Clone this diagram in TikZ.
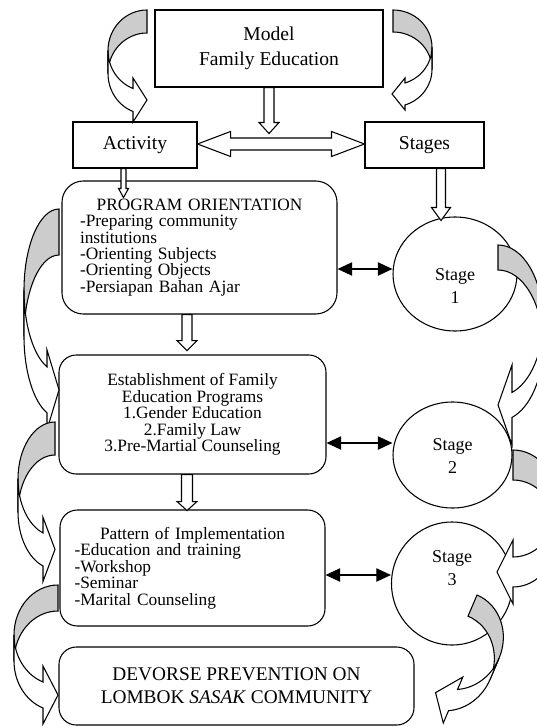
\documentclass[tikz,border=0pt]{standalone}
\usepackage{fontspec}
\setmainfont{Liberation Serif}
\usetikzlibrary{arrows.meta, shapes.geometric, calc}
\newcommand{\headfont}{\fontsize{14.7}{18.75}\selectfont}
\newcommand{\bodyfont}{\fontsize{13}{12.3}\selectfont}
\newcommand{\stagefont}{\fontsize{13.5}{17.25}\selectfont}
\newcommand{\closefont}{\fontsize{14.5}{17}\selectfont}
\tikzset{
	box/.style={draw, line width=.8pt, inner sep=0pt},
	rbox/.style={box, rounded corners=13pt},
	stage/.style={draw, ellipse, line width=.8pt, inner sep=0pt},
	stagetxt/.style={align=center, font=\stagefont, inner sep=0pt},
	block/.style={draw, line width=.8pt, fill=white},
	back/.style={draw, line width=.8pt, fill=black!20},
	front/.style={draw, line width=.8pt, fill=white},
	biarrow/.style={line width=1pt, arrows={Triangle[length=11pt, width=10pt]-Triangle[length=11pt, width=10pt]}},
}
\newcommand{\blockdown}[5]{%
	\draw[block] ($(#1)+(-#4,0)$) -- ++(0,#2-#3) -- ++(#4-#5,0) -- ++(#5,#3)
		-- ++(#5,-#3) -- ++(#4-#5,0) -- ++(0,#3-#2) -- cycle;}
\newcommand{\blockboth}[5]{%
	\draw[block] (#1) -- ($(#1)+(#3,-#5)$) -- ($(#1)+(#3,-#4)$) -- ($(#2)+(-#3,-#4)$)
		-- ($(#2)+(-#3,-#5)$) -- (#2) -- ($(#2)+(-#3,#5)$) -- ($(#2)+(-#3,#4)$)
		-- ($(#1)+(#3,#4)$) -- ($(#1)+(#3,#5)$) -- cycle;}
\newcommand{\curvedblock}[7]{%
	\begin{scope}[#1]
		\pgfmathsetmacro{\hphi}{acos(-#5/#2)}
		\pgfmathsetmacro{\hy}{#3+#3*sin(\hphi)}
		\draw[back] (0,0) arc[start angle=270, end angle=180, x radius=#2, y radius=#3]
			-- ++(0,#4) arc[start angle=180, end angle=270, x radius=#2, y radius=#3] -- cycle;
		\draw[front] (-#2,#3) arc[start angle=180, end angle=\hphi, x radius=#2, y radius=#3]
			-- (-#5,\hy+#4/2-#7) -- (-#5+#6,\hy+#4/2) -- (-#5,\hy+#4/2+#7) -- (-#5,\hy+#4)
			arc[start angle=\hphi, end angle=180, x radius=#2, y radius=#3] -- cycle;
	\end{scope}}

\begin{document}
\begin{tikzpicture}[x=.75pt, y=-.75pt]
	\useasboundingbox (0,0) rectangle (536,727);
	% boxes
	\node[box, minimum width=171pt, minimum height=57.75pt, align=center, font=\headfont] (model) at (269,48.5) {Model\\Family Education};
	\node[box, minimum width=93pt, minimum height=34.5pt, font=\headfont] (act) at (135,145) {Activity};
	\node[box, minimum width=89.25pt, minimum height=34.5pt, font=\headfont] (stg) at (424.5,145) {Stages};
	\node[rbox, rounded corners=16pt, minimum width=206.25pt, minimum height=99.75pt, text width=179.25pt, font=\bodyfont] (p1) at (199.5,247.5)
		{\centering PROGRAM ORIENTATION\par\raggedright -Preparing community\\institutions\\-Orienting Subjects\\-Orienting Objects\\-Persiapan Bahan Ajar};
	\node[rbox, minimum width=200.25pt, minimum height=89.25pt, align=center, font=\bodyfont] (p2) at (192.5,414.5)
		{Establishment of Family\\Education Programs\\1.Gender Education\\2.Family Law\\3.Pre-Martial Counseling};
	\node[rbox, minimum width=198.75pt, minimum height=87pt, text width=177pt, font=\bodyfont] (p3) at (192.5,568)
		{\centering Pattern of Implementation\par\raggedright -Education and training\\-Workshop\\-Seminar\\-Marital Counseling};
	\node[rbox, minimum width=266.25pt, minimum height=58.5pt, align=center, font=\closefont] (p4) at (236.5,686)
		{DEVORSE PREVENTION ON\\LOMBOK \textit{SASAK} COMMUNITY};
	% stages
	\node[stage, minimum width=93pt, minimum height=85.5pt, label={[stagetxt, shift={(0,12.5)}]center:Stage\\1}] (s1) at (455,274) {};
	\node[stage, minimum width=89.25pt, minimum height=79.5pt, label={[stagetxt, shift={(0,1)}]center:Stage\\2}] (s2) at (452.5,455) {};
	\node[stage, minimum width=90.75pt, minimum height=92.25pt, label={[stagetxt, shift={(0,-15)}]center:Stage\\3}] (s3) at (452,583.5) {};
	% block arrows
	\coordinate (actout) at (123.5,0 |- act.south);
	\coordinate (stgout) at (441,0 |- stg.south);
	\coordinate (p1out) at (187,0 |- p1.south);
	\coordinate (p2out) at (187,0 |- p2.south);
	\coordinate (hl) at (act.east |- 0,144);
	\coordinate (hr) at (stg.west |- 0,144);
	\blockdown{model.south}{46}{11}{5}{10}
	\blockdown{actout}{29}{9}{2.5}{5}
	\blockdown{stgout}{52}{13}{4.5}{9.5}
	\blockdown{p1out}{36}{10}{5}{10}
	\blockdown{p2out}{36}{9}{5.5}{10}
	\blockboth{hl}{hr}{33}{6}{12.5}
	% curved arrows
	\curvedblock{shift={(147,10)}}{39}{40.6}{23}{14}{14}{22}
	\curvedblock{shift={(393,10)}, xscale=-1}{39}{37.4}{22}{12}{13}{16}
	\curvedblock{shift={(59,209)}}{35}{81.4}{46}{12}{12}{40}
	\curvedblock{shift={(55,422)}}{37}{57}{33}{12}{12}{32}
	\curvedblock{shift={(58,585)}}{44}{50}{26}{15}{15}{29}
	\curvedblock{shift={(498,245)}, xscale=-1}{45}{75.6}{25}{14}{14}{40}
	\curvedblock{shift={(513,450)}, xscale=-1}{45}{53.5}{30}{0}{16}{32}
	\curvedblock{shift={(477,595)}, rotate=-23, xscale=-1}{45}{49.6}{23}{19}{19}{25}
	% links
	\draw[biarrow] (p1.east |- 0,269) -- (s1.west |- 0,269);
	\draw[biarrow] (p2.east |- 0,443) -- (s2.west |- 0,443);
	\draw[biarrow] (p3.east |- 0,575) -- (s3.west |- 0,575);
\end{tikzpicture}
\end{document}
